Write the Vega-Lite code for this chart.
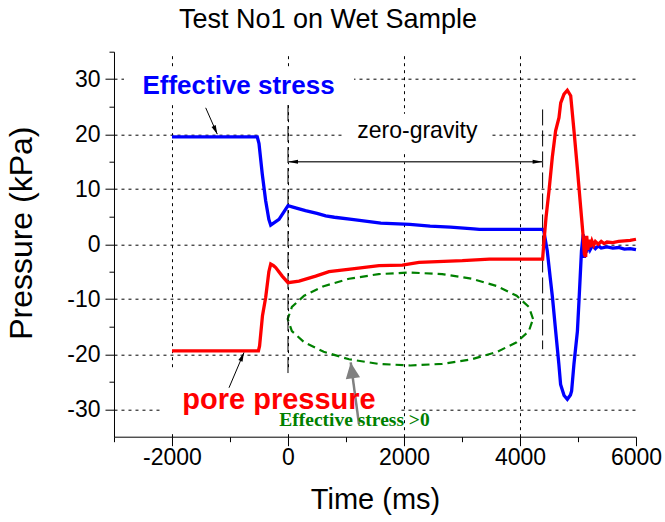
{
  "$schema": "https://vega.github.io/schema/vega-lite/v6.json",
  "width": 522,
  "height": 385,
  "autosize": {"type": "none"},
  "padding": {"left": 114, "top": 51.7, "right": 28.3, "bottom": 85.3},
  "background": "white",
  "config": {
    "view": {"stroke": null},
    "axis": {"labelFont": "Liberation Sans", "titleFont": "Liberation Sans", "labelColor": "black", "titleColor": "black", "domainColor": "black", "tickColor": "black", "gridColor": "black", "gridOpacity": 1, "gridDash": [3, 4], "gridWidth": 1}
  },
  "title": {"text": "Test No1 on Wet Sample", "font": "Liberation Sans", "fontSize": 27, "fontWeight": "normal", "color": "black", "anchor": "middle", "frame": "group", "dx": -47, "dy": 27, "baseline": "alphabetic", "offset": 23},
  "datasets": {
    "eff": [
      {"t": -2000, "v": 19.5}, {"t": -530, "v": 19.5}, {"t": -500, "v": 18.3}, {"t": -443, "v": 12.7}, {"t": -385, "v": 7.9}, {"t": -330, "v": 4.5}, {"t": -298, "v": 3.45}, {"t": -155, "v": 4.5}, {"t": 0, "v": 7.0}, {"t": 100, "v": 6.7}, {"t": 300, "v": 6.1}, {"t": 500, "v": 5.6}, {"t": 650, "v": 5.15}, {"t": 800, "v": 4.9}, {"t": 1100, "v": 4.5}, {"t": 1400, "v": 4.1}, {"t": 1600, "v": 3.85}, {"t": 2100, "v": 3.6}, {"t": 2450, "v": 3.3}, {"t": 2800, "v": 3.1}, {"t": 3200, "v": 2.8}, {"t": 3300, "v": 2.7}, {"t": 4390, "v": 2.7}, {"t": 4410, "v": 2.4}, {"t": 4470, "v": -1.2}, {"t": 4520, "v": -6}, {"t": 4560, "v": -9.7}, {"t": 4615, "v": -15.8}, {"t": 4670, "v": -21.8}, {"t": 4700, "v": -25.5}, {"t": 4760, "v": -27.5}, {"t": 4816, "v": -28.2}, {"t": 4870, "v": -27.4}, {"t": 4890, "v": -26.7}, {"t": 4930, "v": -21.8}, {"t": 4990, "v": -15.8}, {"t": 5020, "v": -9.7}, {"t": 5060, "v": -1.2}, {"t": 5090, "v": 1.8}, {"t": 5110, "v": -2.5}, {"t": 5130, "v": 1.0}, {"t": 5150, "v": -1.5}, {"t": 5180, "v": 0.3}, {"t": 5210, "v": -1.0}, {"t": 5250, "v": -0.2}, {"t": 5300, "v": -0.8}, {"t": 5350, "v": -0.3}, {"t": 5400, "v": -0.7}, {"t": 5500, "v": -0.5}, {"t": 5600, "v": -0.7}, {"t": 5700, "v": -0.6}, {"t": 5800, "v": -0.9}, {"t": 5900, "v": -0.8}, {"t": 6000, "v": -1.0}
    ],
    "pore": [
      {"t": -2000, "v": -19.4}, {"t": -510, "v": -19.4}, {"t": -490, "v": -18.5}, {"t": -440, "v": -13}, {"t": -385, "v": -9.7}, {"t": -330, "v": -5}, {"t": -298, "v": -3.6}, {"t": -250, "v": -3.9}, {"t": -212, "v": -4.25}, {"t": -100, "v": -5.8}, {"t": 0, "v": -7.0}, {"t": 190, "v": -6.7}, {"t": 477, "v": -5.8}, {"t": 707, "v": -5.0}, {"t": 1109, "v": -4.5}, {"t": 1569, "v": -3.9}, {"t": 1971, "v": -3.8}, {"t": 2259, "v": -3.3}, {"t": 3006, "v": -3.0}, {"t": 3471, "v": -2.7}, {"t": 4390, "v": -2.7}, {"t": 4414, "v": 0.6}, {"t": 4450, "v": 5}, {"t": 4500, "v": 9.7}, {"t": 4557, "v": 15.8}, {"t": 4614, "v": 20.6}, {"t": 4672, "v": 23.0}, {"t": 4702, "v": 25.7}, {"t": 4759, "v": 27.3}, {"t": 4816, "v": 28.0}, {"t": 4874, "v": 27.0}, {"t": 4931, "v": 20.6}, {"t": 4988, "v": 13.9}, {"t": 5046, "v": 6.7}, {"t": 5086, "v": 1.8}, {"t": 5110, "v": -1.8}, {"t": 5132, "v": -2.3}, {"t": 5150, "v": 1.5}, {"t": 5170, "v": -1.0}, {"t": 5190, "v": 0.8}, {"t": 5210, "v": -0.5}, {"t": 5240, "v": 0.6}, {"t": 5270, "v": -0.2}, {"t": 5300, "v": 0.5}, {"t": 5350, "v": 0.0}, {"t": 5400, "v": 0.5}, {"t": 5450, "v": 0.1}, {"t": 5500, "v": 0.4}, {"t": 5600, "v": 0.3}, {"t": 5700, "v": 0.5}, {"t": 5800, "v": 0.6}, {"t": 5900, "v": 0.7}, {"t": 6000, "v": 0.9}
    ],
    "ellipse": [
      {"i": 0, "t": 4225, "v": -13.6}, {"i": 1, "t": 4153, "v": -11.41}, {"i": 2, "t": 3942, "v": -9.38}, {"i": 3, "t": 3605, "v": -7.63}, {"i": 4, "t": 3168, "v": -6.28}, {"i": 5, "t": 2658, "v": -5.44}, {"i": 6, "t": 2110, "v": -5.15}, {"i": 7, "t": 1562, "v": -5.44}, {"i": 8, "t": 1053, "v": -6.28}, {"i": 9, "t": 615, "v": -7.63}, {"i": 10, "t": 278, "v": -9.38}, {"i": 11, "t": 67, "v": -11.41}, {"i": 12, "t": -5, "v": -13.6}, {"i": 13, "t": 67, "v": -15.79}, {"i": 14, "t": 278, "v": -17.83}, {"i": 15, "t": 615, "v": -19.57}, {"i": 16, "t": 1053, "v": -20.92}, {"i": 17, "t": 1562, "v": -21.76}, {"i": 18, "t": 2110, "v": -22.05}, {"i": 19, "t": 2658, "v": -21.76}, {"i": 20, "t": 3168, "v": -20.92}, {"i": 21, "t": 3605, "v": -19.57}, {"i": 22, "t": 3942, "v": -17.83}, {"i": 23, "t": 4153, "v": -15.79}, {"i": 24, "t": 4225, "v": -13.6}
    ],
    "boxes": [
      {"t": -2828, "t2": 1138, "v": 32.2, "v2": 25.5},
      {"t": 966, "t2": 3466, "v": 23.7, "v2": 17.0},
      {"t": -2172, "t2": 1914, "v": -22.9, "v2": -34.3}
    ],
    "vlines": [
      {"t": 0, "v": 25.3, "v2": -24.0},
      {"t": 4390, "v": 24.5, "v2": -19.1}
    ],
    "pointers": [
      {"id": "eff", "k": 0, "t": -1419, "v": 24.8}, {"id": "eff", "k": 1, "t": -1219, "v": 20.0},
      {"id": "pore", "k": 0, "t": -1017, "v": -26.1}, {"id": "pore", "k": 1, "t": -759, "v": -19.7},
      {"id": "span", "k": 0, "t": 0, "v": 15.0}, {"id": "span", "k": 1, "t": 4390, "v": 15.0},
      {"id": "gray", "k": 0, "t": 1224, "v": -32.7}, {"id": "gray", "k": 1, "t": 1081, "v": -21.5}
    ],
    "notes": [
      {"label": "Effective stress", "t": -853, "v": 27.3},
      {"label": "zero-gravity", "t": 2230, "v": 19.4},
      {"label": "pore pressure", "t": -155, "v": -30.0},
      {"label": "Effective stress >0", "t": 1147, "v": -33.0}
    ]
  },
  "resolve": {"axis": {"x": "independent", "y": "independent"}},
  "layer": [
    {
      "data": {"name": "boxes"},
      "mark": {"type": "rect", "fill": "white", "stroke": null},
      "encoding": {
        "x": {"field": "t", "type": "quantitative", "scale": {"domain": [-3000, 6000], "nice": false, "zero": false},
          "axis": {"orient": "bottom", "values": [-2000, 0, 2000, 4000, 6000], "labelExpr": "'' + datum.value", "tickSize": 9, "labelFontSize": 23, "labelPadding": 1, "grid": false, "title": "Time (ms)", "titleFontSize": 29, "titleFontWeight": "normal", "titleBaseline": "alphabetic", "titleY": 71.6, "labelFlush": false}},
        "x2": {"field": "t2"},
        "y": {"field": "v", "type": "quantitative", "scale": {"domain": [-35, 35], "nice": false, "zero": false},
          "axis": {"orient": "left", "values": [-30, -20, -10, 0, 10, 20, 30], "labelExpr": "'' + datum.value", "tickSize": 9, "labelFontSize": 23, "labelPadding": 5, "grid": true, "title": "Pressure (kPa)", "titleFontSize": 32, "titleFontWeight": "normal", "titleAngle": 270, "titleBaseline": "alphabetic", "titleAlign": "center", "titleX": -82.3, "titleY": 181, "labelFlush": false}},
        "y2": {"field": "v2"}
      }
    },
    {
      "data": {"name": "ellipse"},
      "mark": {"type": "line", "color": "#008000", "strokeWidth": 2.2, "strokeDash": [8, 5]},
      "encoding": {
        "x": {"field": "t", "type": "quantitative", "axis": {"orient": "bottom", "values": [-3000, -1000, 1000, 3000, 5000], "tickSize": 5, "labels": false, "domain": false, "grid": false, "title": null}},
        "y": {"field": "v", "type": "quantitative", "axis": {"orient": "left", "values": [-25, -15, -5, 5, 15, 25, 35], "tickSize": 5, "labels": false, "domain": false, "grid": false, "title": null}},
        "order": {"field": "i", "type": "quantitative"}
      }
    },
    {
      "data": {"name": "vlines"},
      "mark": {"type": "rule", "color": "black", "strokeWidth": 1, "strokeDash": [16, 5]},
      "encoding": {
        "x": {"field": "t", "type": "quantitative", "axis": {"orient": "top", "values": [-2000, 0, 2000, 4000], "grid": true, "ticks": false, "labels": false, "domain": false, "title": null}},
        "y": {"field": "v", "type": "quantitative", "axis": null},
        "y2": {"field": "v2"}
      }
    },
    {
      "data": {"name": "eff"},
      "mark": {"type": "line", "color": "#0000ff", "strokeWidth": 3.3},
      "encoding": {
        "x": {"field": "t", "type": "quantitative", "axis": null},
        "y": {"field": "v", "type": "quantitative", "axis": null}
      }
    },
    {
      "data": {"name": "pore"},
      "mark": {"type": "line", "color": "#ff0000", "strokeWidth": 3.3},
      "encoding": {
        "x": {"field": "t", "type": "quantitative", "axis": null},
        "y": {"field": "v", "type": "quantitative", "axis": null}
      }
    },
    {
      "data": {"name": "pointers"},
      "transform": [{"filter": "datum.id === 'eff' || datum.id === 'pore'"}],
      "mark": {"type": "line", "color": "black", "strokeWidth": 1},
      "encoding": {
        "x": {"field": "t", "type": "quantitative", "axis": null},
        "y": {"field": "v", "type": "quantitative", "axis": null},
        "detail": {"field": "id"},
        "order": {"field": "k", "type": "quantitative"}
      }
    },
    {
      "data": {"name": "pointers"},
      "transform": [{"filter": "datum.id === 'span'"}],
      "mark": {"type": "line", "color": "#404040", "strokeWidth": 1.5},
      "encoding": {
        "x": {"field": "t", "type": "quantitative", "axis": null},
        "y": {"field": "v", "type": "quantitative", "axis": null},
        "order": {"field": "k", "type": "quantitative"}
      }
    },
    {
      "data": {"name": "pointers"},
      "transform": [{"filter": "datum.id === 'gray'"}],
      "mark": {"type": "line", "color": "#808080", "strokeWidth": 2.5},
      "encoding": {
        "x": {"field": "t", "type": "quantitative", "axis": null},
        "y": {"field": "v", "type": "quantitative", "axis": null},
        "order": {"field": "k", "type": "quantitative"}
      }
    },
    {
      "data": {"name": "pointers"},
      "transform": [{"filter": "datum.id === 'eff' && datum.k === 1"}],
      "mark": {"type": "point", "shape": "M0,0L0.5,2L-0.5,2Z", "size": 81, "filled": true, "color": "black", "opacity": 1, "angle": 156},
      "encoding": {
        "x": {"field": "t", "type": "quantitative", "axis": null},
        "y": {"field": "v", "type": "quantitative", "axis": null}
      }
    },
    {
      "data": {"name": "pointers"},
      "transform": [{"filter": "datum.id === 'pore' && datum.k === 1"}],
      "mark": {"type": "point", "shape": "M0,0L0.5,2L-0.5,2Z", "size": 81, "filled": true, "color": "black", "opacity": 1, "angle": 23},
      "encoding": {
        "x": {"field": "t", "type": "quantitative", "axis": null},
        "y": {"field": "v", "type": "quantitative", "axis": null}
      }
    },
    {
      "data": {"name": "pointers"},
      "transform": [{"filter": "datum.id === 'span' && datum.k === 0"}],
      "mark": {"type": "point", "shape": "M0,0L0.4,2L-0.4,2Z", "size": 100, "filled": true, "color": "black", "opacity": 1, "angle": 270},
      "encoding": {
        "x": {"field": "t", "type": "quantitative", "axis": null},
        "y": {"field": "v", "type": "quantitative", "axis": null}
      }
    },
    {
      "data": {"name": "pointers"},
      "transform": [{"filter": "datum.id === 'span' && datum.k === 1"}],
      "mark": {"type": "point", "shape": "M0,0L0.4,2L-0.4,2Z", "size": 100, "filled": true, "color": "black", "opacity": 1, "angle": 90},
      "encoding": {
        "x": {"field": "t", "type": "quantitative", "axis": null},
        "y": {"field": "v", "type": "quantitative", "axis": null}
      }
    },
    {
      "data": {"name": "pointers"},
      "transform": [{"filter": "datum.id === 'gray' && datum.k === 1"}],
      "mark": {"type": "point", "shape": "M0,0L0.9,2L-0.9,2Z", "size": 256, "filled": true, "color": "#808080", "opacity": 1, "angle": 352},
      "encoding": {
        "x": {"field": "t", "type": "quantitative", "axis": null},
        "y": {"field": "v", "type": "quantitative", "axis": null}
      }
    },
    {
      "data": {"name": "notes"},
      "transform": [{"filter": "datum.label === 'Effective stress'"}],
      "mark": {"type": "text", "font": "Liberation Sans", "fontSize": 26, "fontWeight": "bold", "color": "#0000ff", "align": "center", "baseline": "alphabetic"},
      "encoding": {
        "x": {"field": "t", "type": "quantitative", "axis": null},
        "y": {"field": "v", "type": "quantitative", "axis": null},
        "text": {"field": "label"}
      }
    },
    {
      "data": {"name": "notes"},
      "transform": [{"filter": "datum.label === 'zero-gravity'"}],
      "mark": {"type": "text", "font": "Liberation Sans", "fontSize": 23, "fontWeight": "normal", "color": "black", "align": "center", "baseline": "alphabetic"},
      "encoding": {
        "x": {"field": "t", "type": "quantitative", "axis": null},
        "y": {"field": "v", "type": "quantitative", "axis": null},
        "text": {"field": "label"}
      }
    },
    {
      "data": {"name": "notes"},
      "transform": [{"filter": "datum.label === 'pore pressure'"}],
      "mark": {"type": "text", "font": "Liberation Sans", "fontSize": 29, "fontWeight": "bold", "color": "#ff0000", "align": "center", "baseline": "alphabetic"},
      "encoding": {
        "x": {"field": "t", "type": "quantitative", "axis": null},
        "y": {"field": "v", "type": "quantitative", "axis": null},
        "text": {"field": "label"}
      }
    },
    {
      "data": {"name": "notes"},
      "transform": [{"filter": "datum.label === 'Effective stress >0'"}],
      "mark": {"type": "text", "font": "Liberation Serif", "fontSize": 19.5, "fontWeight": "bold", "color": "#008000", "align": "center", "baseline": "alphabetic"},
      "encoding": {
        "x": {"field": "t", "type": "quantitative", "axis": null},
        "y": {"field": "v", "type": "quantitative", "axis": null},
        "text": {"field": "label"}
      }
    }
  ]
}
